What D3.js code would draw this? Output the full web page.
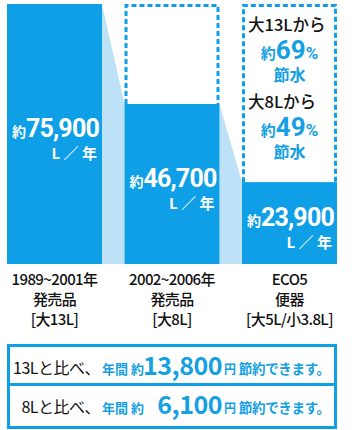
<!DOCTYPE html>
<html><head><meta charset="utf-8">
<script src="https://cdn.jsdelivr.net/npm/d3@7"></script>
<style>
html,body{margin:0;padding:0;background:#fff;}
svg{display:block;}
text{font-family:"Noto Sans CJK JP","Noto Sans",sans-serif;}
</style></head>
<body>
<script>
// ---- data ----
const categories = ["1989~2001年発売品", "2002~2006年発売品", "ECO5便器"];
const labelLine1 = ["1989~2001年", "2002~2006年", "ECO5"];
const labelLine2 = ["発売品", "発売品", "便器"];
const labelLine3 = ["[大13L]", "[大8L]", "[大5L/小3.8L]"];
const values = [75900, 46700, 23900];          // L / 年
const savingFrom = ["大13Lから", "大8Lから"];
const savingPct = [69, 49];
const compareText = ["13Lと比べ、", "8Lと比べ、"];
const yenSaved = [13800, 6100];

// ---- setup ----
const W = 360, H = 430;
const BLUE = "#0e9fe6", LIGHT = "#bde2f7", TBLUE = "#14a0e3";
const svg = d3.select("body").append("svg").attr("width", W).attr("height", H);

const x = d3.scaleBand().domain(categories).range([7, 337]).paddingInner(0.1915).paddingOuter(0);
const y = d3.scaleLinear().domain([0, d3.max(values)]).range([264, 4]);
const fmt = d3.format(",");

// connectors
for (let i = 0; i < values.length - 1; i++) {
  const x1 = x(categories[i]) + x.bandwidth(), x2 = x(categories[i + 1]);
  svg.append("path")
    .attr("d", `M${x1},${y(values[i])}L${x2},${y(values[i + 1])}L${x2},${y(0)}L${x1},${y(0)}Z`)
    .attr("fill", LIGHT);
}

// dotted outlines showing the original volume
values.forEach((v, i) => {
  if (i === 0) return;
  const bx = x(categories[i]), bw = x.bandwidth();
  const top = y(values[0]) + 1.5, bot = y(v);
  svg.append("path")
    .attr("d", `M${bx + 1.5},${bot}L${bx + 1.5},${top}L${bx + bw - 1.5},${top}L${bx + bw - 1.5},${bot}`)
    .attr("fill", "none").attr("stroke", BLUE).attr("stroke-width", 3)
    .attr("stroke-dasharray", "5,3");
});

// bars
svg.selectAll("rect.bar").data(values).join("rect").attr("class", "bar")
  .attr("x", (d, i) => x(categories[i])).attr("width", x.bandwidth())
  .attr("y", d => y(d)).attr("height", d => y(0) - y(d)).attr("fill", BLUE);

// value labels
values.forEach((v, i) => {
  const right = x(categories[i]) + x.bandwidth() - 3;
  const mid = (y(v) + y(0)) / 2 + 3;
  const t = svg.append("text").attr("x", right).attr("y", mid).attr("text-anchor", "end").attr("fill", "#fff");
  t.append("tspan").attr("font-size", 14).attr("font-weight", 700).text("約");
  t.append("tspan").attr("font-size", 25).attr("font-weight", 700).attr("letter-spacing", -0.8)
    .attr("font-family", "Roboto, 'Liberation Sans', sans-serif").text(fmt(v));
  svg.append("text").attr("x", right - 2).attr("y", mid + 22).attr("text-anchor", "end")
    .attr("fill", "#fff").attr("font-size", 15).attr("font-weight", 700).text("L ／ 年");
});

// savings inside the dotted box of the last bar
const lastX = x(categories[2]), cx = lastX + x.bandwidth() / 2;
savingPct.forEach((p, k) => {
  const base = 31 + k * 77;
  svg.append("text").attr("x", lastX + 6).attr("y", base).attr("font-size", 16.5)
    .attr("font-weight", 500).attr("fill", "#111").text(savingFrom[k]);
  const t = svg.append("text").attr("x", cx).attr("y", base + 27.5).attr("text-anchor", "middle").attr("fill", TBLUE).attr("font-weight", 700);
  t.append("tspan").attr("font-size", 15).text("約");
  t.append("tspan").attr("font-size", 26).attr("font-family", "Roboto, 'Liberation Sans', sans-serif").text(p);
  t.append("tspan").attr("font-size", 17).attr("font-family", "Roboto, 'Liberation Sans', sans-serif").text("%");
  svg.append("text").attr("x", cx).attr("y", base + 50).attr("text-anchor", "middle")
    .attr("font-size", 16).attr("font-weight", 700).attr("fill", TBLUE).text("節水");
});

// category labels
categories.forEach((c, i) => {
  const c0 = x(c) + x.bandwidth() / 2;
  [labelLine1[i], labelLine2[i], labelLine3[i]].forEach((s, r) => {
    svg.append("text").attr("x", c0).attr("y", 285 + r * 20).attr("text-anchor", "middle")
      .attr("font-size", 15).attr("font-weight", 500).attr("letter-spacing", -0.6).attr("fill", "#111").text(s);
  });
});

// bottom comparison boxes
svg.append("rect").attr("x", 8.5).attr("y", 345.5).attr("width", 327).attr("height", 82)
  .attr("fill", "none").attr("stroke", BLUE).attr("stroke-width", 3);
svg.append("line").attr("x1", 8.5).attr("x2", 335.5).attr("y1", 384.5).attr("y2", 384.5)
  .attr("stroke", BLUE).attr("stroke-width", 3);
yenSaved.forEach((v, k) => {
  const base = 374 + k * 39;
  svg.append("text").attr("x", 100).attr("y", base).attr("text-anchor", "end")
    .attr("font-size", 16).attr("letter-spacing", -0.5).attr("fill", "#111").text(compareText[k]);
  svg.append("text").attr("x", 102).attr("y", base).attr("font-size", 13).attr("font-weight", 700)
    .attr("fill", TBLUE).text("年間 約");
  svg.append("text").attr("x", 222).attr("y", base + 1).attr("text-anchor", "end")
    .attr("font-size", 25).attr("font-weight", 700).attr("letter-spacing", -0.5)
    .attr("font-family", "Roboto, 'Liberation Sans', sans-serif").attr("fill", TBLUE).text(fmt(v));
  const t = svg.append("text").attr("x", 224).attr("y", base).attr("fill", TBLUE).attr("font-weight", 700);
  t.append("tspan").attr("font-size", 12).text("円 ");
  t.append("tspan").attr("font-size", 13.5).attr("letter-spacing", -0.3).text("節約できます。");
});
</script>
</body></html>
